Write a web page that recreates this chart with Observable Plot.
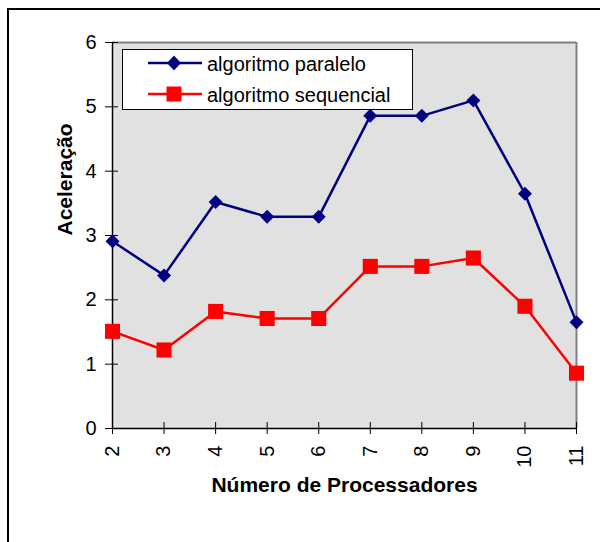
<!DOCTYPE html>
<html><head><meta charset="utf-8">
<script src="https://cdn.jsdelivr.net/npm/d3@7"></script>
<script src="https://cdn.jsdelivr.net/npm/@observablehq/plot@0.6"></script>
<style>
html,body{margin:0;padding:0;background:#fff;overflow:hidden;width:600px;height:542px;}
#wrap{position:relative;width:600px;height:542px;overflow:hidden;}
#border{position:absolute;left:7px;top:8px;width:700px;height:700px;border:2px solid #000;pointer-events:none;}
#wrap svg.plot{position:absolute;left:0;top:0;}
#legend{position:absolute;left:122px;top:49px;}
</style></head>
<body><div id="wrap"><div id="border"></div></div>
<script>
const processors = [2, 3, 4, 5, 6, 7, 8, 9, 10, 11];
const paralelo   = [2.91, 2.38, 3.52, 3.29, 3.29, 4.86, 4.86, 5.10, 3.65, 1.65];
const sequencial = [1.51, 1.22, 1.82, 1.71, 1.71, 2.52, 2.52, 2.65, 1.90, 0.86];
const seriesNames = ["algoritmo paralelo", "algoritmo sequencial"];
const seriesColors = ["#000080", "#ff0000"];
const yTicks = [0, 1, 2, 3, 4, 5, 6];
const xTitle = "Número de Processadores";
const yTitle = "Aceleração";

const data = processors.flatMap((p, i) => [
  {p, v: paralelo[i], s: seriesNames[0]},
  {p, v: sequencial[i], s: seriesNames[1]}
]);
const FONT = '"Liberation Sans", Arial, sans-serif';

const chart = Plot.plot({
  width: 600, height: 542,
  marginLeft: 112, marginRight: 24, marginTop: 42, marginBottom: 114,
  style: {fontFamily: FONT, fontSize: "20px", color: "#000", background: "transparent", overflow: "visible"},
  x: {domain: [2, 11], label: null},
  y: {domain: [0, 6], label: null},
  color: {domain: seriesNames, range: seriesColors},
  marks: [
    Plot.frame({fill: "#e1e1e1", stroke: null}),
    Plot.ruleY([6], {stroke: "#808080", strokeWidth: 2}),
    Plot.ruleX([11], {stroke: "#808080", strokeWidth: 2}),
    Plot.ruleX([2], {stroke: "#000", strokeWidth: 1.5}),
    Plot.ruleY([0], {stroke: "#000", strokeWidth: 1.5}),
    Plot.axisY(yTicks, {tickSize: 7, tickPadding: 9, tickFormat: d3.format("d"), fontSize: 20, label: null}),
    Plot.axisY(yTicks, {tickSize: 6, dx: 6, tickFormat: () => "", label: null}),
    Plot.axisX(processors, {tickSize: 6, tickPadding: 11, tickRotate: -90, tickFormat: d3.format("d"), fontSize: 20, label: null}),
    Plot.axisX(processors, {tickSize: 6, dy: -6, tickFormat: () => "", label: null}),
    Plot.lineY(data, {x: "p", y: "v", stroke: "s", strokeWidth: 2.5}),
    Plot.dot(data.filter(d => d.s === seriesNames[0]), {x: "p", y: "v", fill: "s", symbol: "diamond2", r: 6.3}),
    Plot.dot(data.filter(d => d.s === seriesNames[1]), {x: "p", y: "v", fill: "s", symbol: "square", r: 8.5}),
    Plot.text([yTitle], {frameAnchor: "left", rotate: -90, dx: -47, fontWeight: "bold", fontSize: 21}),
    Plot.text([xTitle], {frameAnchor: "bottom", dy: 63, fontWeight: "bold", fontSize: 21})
  ]
});
chart.classList.add("plot");
document.getElementById("wrap").appendChild(chart);

// legend (inside plot area, top-left)
const lg = d3.select("#wrap").append("svg").attr("id", "legend")
  .attr("width", 292).attr("height", 62);
lg.append("rect").attr("x", 0.5).attr("y", 0.5).attr("width", 290).attr("height", 60)
  .attr("fill", "#fff").attr("stroke", "#000").attr("stroke-width", 1);
seriesNames.forEach((name, i) => {
  const cy = 14 + i * 31;
  lg.append("line").attr("x1", 26).attr("x2", 80).attr("y1", cy).attr("y2", cy)
    .attr("stroke", seriesColors[i]).attr("stroke-width", 2.5);
  if (i === 0) {
    lg.append("path").attr("d", `M52,${cy - 7.5}L59,${cy}L52,${cy + 7.5}L45,${cy}Z`).attr("fill", seriesColors[i]);
  } else {
    lg.append("rect").attr("x", 44.5).attr("y", cy - 7.5).attr("width", 15).attr("height", 15).attr("fill", seriesColors[i]);
  }
  lg.append("text").attr("x", 85).attr("y", cy + 7.5).attr("font-family", FONT).attr("font-size", 20)
    .attr("fill", "#000").text(name);
});
</script>
</body></html>
